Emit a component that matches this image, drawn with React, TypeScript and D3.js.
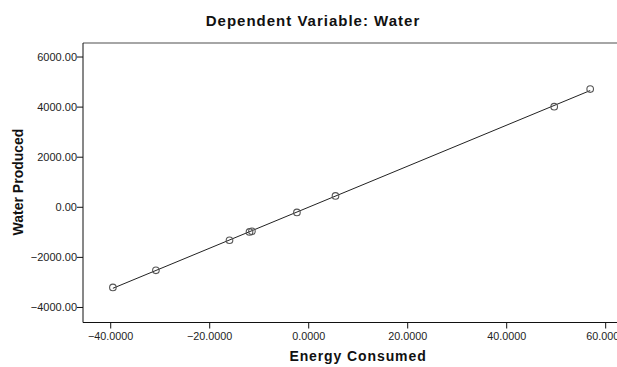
import React from 'react';
import * as d3 from 'd3';

// partial regression plot
const energy = [-39.56, -30.87, -16.0, -11.96, -11.47, -2.38, 5.41, 49.6, 56.87];
const water = [-3200, -2515, -1315, -982, -958, -206, 455, 4019, 4720];
const xTicks = [-40, -20, 0, 20, 40, 60];
const yTicks = [-4000, -2000, 0, 2000, 4000, 6000];

const W = 617;
const H = 367;
const font = 'Arial, "Liberation Sans", sans-serif';

const App = () => {
  const x = d3.scaleLinear().domain([-45.6, 65.6]).range([83, 633.4]);
  const y = d3.scaleLinear().domain([-4600, 6560]).range([322.5, 43]);

  // least squares fit line
  const mx = d3.mean(energy) as number;
  const my = d3.mean(water) as number;
  const slope =
    d3.sum(energy, (v, i) => (v - mx) * (water[i] - my)) /
    d3.sum(energy, (v) => (v - mx) * (v - mx));
  const b = my - slope * mx;
  const [x0, x1] = d3.extent(energy) as [number, number];
  const line = d3.line<number>().x((d) => x(d)).y((d) => y(b + slope * d));

  const [left, right] = x.range();
  const [bottom, top] = y.range();

  return (
    <svg
      width={W}
      height={H}
      style={{ position: 'absolute', left: 0, top: 0, background: '#fff' }}
      fontFamily={font}
    >
      <text x={313} y={26} textAnchor="middle" fontSize={15} fontWeight="bold" letterSpacing={1} fill="#111">
        Dependent Variable: Water
      </text>

      {/* frame */}
      <line x1={left} x2={right} y1={top} y2={top} stroke="#888" strokeWidth={1.5} />
      <line x1={left} x2={left} y1={top} y2={bottom} stroke="#111" />
      <line x1={left} x2={right} y1={bottom} y2={bottom} stroke="#111" />

      {yTicks.map((t) => (
        <g key={'y' + t}>
          <line x1={left - 6} x2={left} y1={y(t)} y2={y(t)} stroke="#111" />
          <text x={left - 6} y={y(t) + 4} textAnchor="end" fontSize={11} fill="#222">
            {d3.format('.2f')(t)}
          </text>
        </g>
      ))}
      {xTicks.map((t) => (
        <g key={'x' + t}>
          <line x1={x(t)} x2={x(t)} y1={bottom} y2={bottom + 6} stroke="#111" />
          <text x={x(t)} y={bottom + 17} textAnchor="middle" fontSize={10.8} fill="#222">
            {d3.format('.4f')(t)}
          </text>
        </g>
      ))}

      <text
        transform={`translate(23,182) rotate(-90)`}
        textAnchor="middle"
        fontSize={14}
        fontWeight="bold"
        fill="#111"
      >
        Water Produced
      </text>
      <text x={358} y={361} textAnchor="middle" fontSize={14} fontWeight="bold" letterSpacing={0.9} fill="#111">
        Energy Consumed
      </text>

      <path d={line([x0, x1]) as string} fill="none" stroke="#222" strokeWidth={1} />

      {energy.map((e, i) => (
        <circle
          key={i}
          cx={x(e)}
          cy={y(water[i])}
          r={3.3}
          fill="none"
          stroke="#555"
          strokeWidth={1.1}
        />
      ))}
    </svg>
  );
};

export default App;
